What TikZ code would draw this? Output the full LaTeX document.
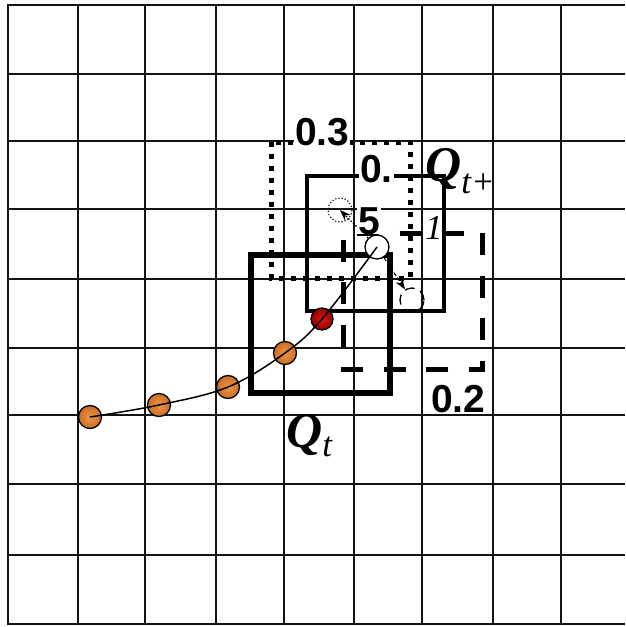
\documentclass[tikz,border=0pt]{standalone}
\usepackage{fontspec}
\setmainfont{Liberation Serif}
\newfontfamily\numfont{Liberation Sans}
\usetikzlibrary{arrows.meta}
\definecolor{gridc}{RGB}{20,20,20}
\definecolor{orin}{RGB}{240,150,70}
\definecolor{orout}{RGB}{200,110,40}
\definecolor{redin}{RGB}{220,20,20}
\definecolor{redout}{RGB}{150,0,0}
\tikzset{
  gridline/.style={draw=gridc, line width=1.7pt},
  qtbox/.style={draw=black, line width=5.5pt},
  qnbox/.style={draw=black, line width=3.5pt},
  dotbox/.style={draw=black, line width=5pt, dash pattern=on 5pt off 7pt},
  dashbox/.style={draw=black, line width=5pt, dash pattern=on 22pt off 20.5pt},
  ball/.style={circle, draw=black, line width=1.3pt, minimum size=23pt, inner sep=0pt, inner color=orin, outer color=orout},
  redball/.style={circle, draw=black, line width=1.3pt, minimum size=22pt, inner sep=0pt, inner color=redin, outer color=redout},
  wcirc/.style={circle, draw=black, fill=white, line width=1.3pt, minimum size=24pt, inner sep=0pt},
  dotcirc/.style={circle, draw=black, line width=1.1pt, dash pattern=on 1.2pt off 2pt, minimum size=24pt, inner sep=0pt},
  dashcirc/.style={circle, draw=black, line width=1.3pt, dash pattern=on 10pt off 6pt, minimum size=24pt, inner sep=0pt},
  num/.style={anchor=base west, inner sep=0pt, font=\numfont\bfseries\fontsize{39}{39}\selectfont},
  numw/.style={num, fill=white, inner xsep=1pt, inner ysep=0pt},
  qlab/.style={anchor=base west, inner sep=0pt},
  traj/.style={draw=black, line width=1.5pt},
  arrowtip/.style={-{Stealth[length=11pt,width=8pt]}}
}
\begin{document}
\begin{tikzpicture}[x=1pt,y=-1pt]
\useasboundingbox (0,0) rectangle (625,627);
% grid
\foreach \gx in {8,78,145,216,284,354,422,493,561}
  \draw[gridline] (\gx,4) -- (\gx,625);
\foreach \gy in {5,74,141,209,279,348,415,484,555,624}
  \draw[gridline] (8,\gy) -- (625,\gy);
% boxes
\draw[dotbox] (271,142) -- (271,278) -- (410,278) -- (410,142) -- cycle;
\draw[qnbox] (307,176) rectangle (444,311);
\draw[qtbox] (251,255) rectangle (390,393);
\draw[dashbox] (482,233) -- (482,369) -- (343,369) -- (343,233) -- cycle;
% small circles
\node[dotcirc] (dc) at (340,210) {};
\node[dashcirc] (sc) at (412,300) {};
\node[wcirc] (w) at (377,247) {};
% balls
\node[ball] (b1) at (90,417) {};
\node[ball] (b2) at (159,405) {};
\node[ball] (b3) at (228,387) {};
\node[ball] (b4) at (285,353) {};
\node[redball] (b5) at (322,319) {};
% trajectory
\draw[traj] plot[smooth, tension=0.6] coordinates {(b1.center) (b2.center) (b3.center) (b4.center) (b5.center) (w.center)};
% arrows
\draw[arrowtip, line width=1.1pt, dash pattern=on 1.5pt off 1.8pt] (w) -- (dc.center);
\draw[arrowtip, line width=1.1pt, dash pattern=on 4pt off 2pt] (w) -- (sc);
% labels
\node[numw] (l03) at (294,145) {0.3};
\node[numw] (l05a) at (359,182) {0.};
\node[numw] (l05b) at (357,234) {5};
\node[num] (l02) at (431,412) {0.2};
\node[qlab] (qt) at (286,447) {{\fontsize{50}{50}\selectfont\bfseries\itshape Q}{\fontsize{35}{35}\selectfont\itshape\raisebox{-9pt}{t}}};
\node[qlab] (qn) at (425,181) {{\fontsize{50}{50}\selectfont\bfseries\itshape Q}{\fontsize{35}{35}\selectfont\raisebox{-12pt}{\itshape t+}}};
\node[qlab] (qn1) at (425,239) {\fontsize{35}{35}\selectfont\itshape 1};
\end{tikzpicture}
\end{document}
